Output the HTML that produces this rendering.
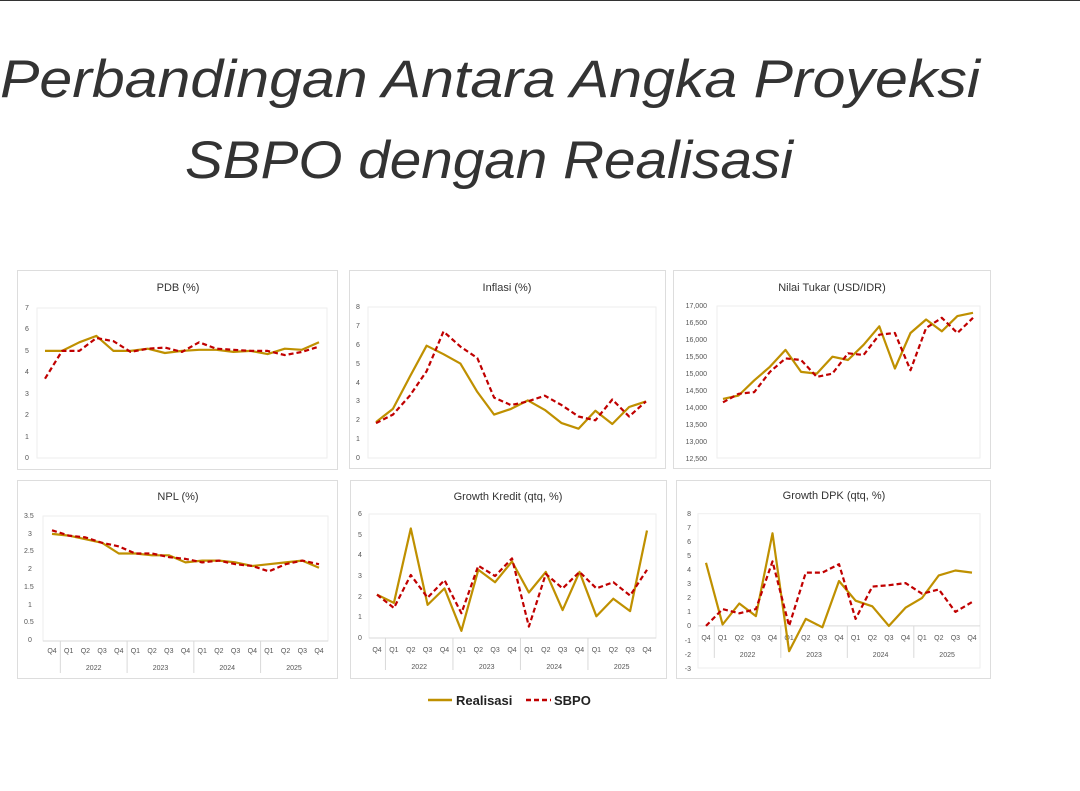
<!DOCTYPE html>
<html><head><meta charset="utf-8"><style>
html,body{margin:0;padding:0;background:#fff;}
svg{display:block;font-family:"Liberation Sans",sans-serif;}
.t{font-size:11px;fill:#333;text-anchor:middle;}
.y{font-size:7px;fill:#555;}
.c{font-size:7px;fill:#555;text-anchor:middle;}
.box{fill:#fff;stroke:#ddd;stroke-width:1;}
.g{fill:none;stroke:#ededed;stroke-width:1;}
</style></head><body>
<svg id="s" width="1080" height="791" viewBox="0 0 1080 791" xmlns="http://www.w3.org/2000/svg">
<line x1="0" y1="0.5" x2="1080" y2="0.5" stroke="#333" stroke-width="1"/>
<text x="0" y="97" font-size="53" font-style="italic" fill="#333" textLength="980" lengthAdjust="spacingAndGlyphs">Perbandingan Antara Angka Proyeksi</text>
<text x="185" y="178" font-size="53" font-style="italic" fill="#333" textLength="608" lengthAdjust="spacingAndGlyphs">SBPO dengan Realisasi</text>

<rect class="box" x="17.5" y="270.5" width="320" height="199"/>
<rect class="box" x="349.5" y="270.5" width="316" height="198"/>
<rect class="box" x="673.5" y="270.5" width="317" height="198"/>
<rect class="box" x="17.5" y="480.5" width="320" height="198"/>
<rect class="box" x="350.5" y="480.5" width="316" height="198"/>
<rect class="box" x="676.5" y="480.5" width="314" height="198"/>

<text class="t" x="178" y="291">PDB (%)</text>
<text class="t" x="507" y="291">Inflasi (%)</text>
<text class="t" x="832" y="291">Nilai Tukar (USD/IDR)</text>
<text class="t" x="178" y="500">NPL (%)</text>
<text class="t" x="508" y="500">Growth Kredit (qtq, %)</text>
<text class="t" x="834" y="499">Growth DPK (qtq, %)</text>

<g class="y" text-anchor="start">
<text x="25" y="310">7</text><text x="25" y="331">6</text><text x="25" y="353">5</text><text x="25" y="374">4</text><text x="25" y="396">3</text><text x="25" y="417">2</text><text x="25" y="439">1</text><text x="25" y="460">0</text>
<text x="356" y="309">8</text><text x="356" y="328">7</text><text x="356" y="347">6</text><text x="356" y="366">5</text><text x="356" y="385">4</text><text x="356" y="403">3</text><text x="356" y="422">2</text><text x="356" y="441">1</text><text x="356" y="460">0</text>
<text x="24" y="518">3.5</text><text x="28" y="536">3</text><text x="24" y="553">2.5</text><text x="28" y="571">2</text><text x="24" y="589">1.5</text><text x="28" y="607">1</text><text x="24" y="624">0.5</text><text x="28" y="642">0</text>
<text x="358" y="516">6</text><text x="358" y="537">5</text><text x="358" y="557">4</text><text x="358" y="578">3</text><text x="358" y="599">2</text><text x="358" y="619">1</text><text x="358" y="640">0</text>
</g>
<g class="y" text-anchor="end">
<text x="707" y="308">17,000</text><text x="707" y="325">16,500</text><text x="707" y="342">16,000</text><text x="707" y="359">15,500</text><text x="707" y="376">15,000</text><text x="707" y="393">14,500</text><text x="707" y="410">14,000</text><text x="707" y="427">13,500</text><text x="707" y="444">13,000</text><text x="707" y="461">12,500</text>
<text x="691" y="516">8</text><text x="691" y="530">7</text><text x="691" y="544">6</text><text x="691" y="558">5</text><text x="691" y="572">4</text><text x="691" y="586">3</text><text x="691" y="600">2</text><text x="691" y="614">1</text><text x="691" y="628">0</text><text x="691" y="643">-1</text><text x="691" y="657">-2</text><text x="691" y="671">-3</text>
</g>

<g class="c">
<text y="653"><tspan x="52">Q4</tspan><tspan x="68.7">Q1</tspan><tspan x="85.4">Q2</tspan><tspan x="102.1">Q3</tspan><tspan x="118.8">Q4</tspan><tspan x="135.4">Q1</tspan><tspan x="152.1">Q2</tspan><tspan x="168.8">Q3</tspan><tspan x="185.5">Q4</tspan><tspan x="202.2">Q1</tspan><tspan x="218.9">Q2</tspan><tspan x="235.6">Q3</tspan><tspan x="252.3">Q4</tspan><tspan x="268.9">Q1</tspan><tspan x="285.6">Q2</tspan><tspan x="302.3">Q3</tspan><tspan x="319">Q4</tspan></text>
<text y="670"><tspan x="93.7">2022</tspan><tspan x="160.5">2023</tspan><tspan x="227.2">2024</tspan><tspan x="294">2025</tspan></text>
<text y="652"><tspan x="377">Q4</tspan><tspan x="393.9">Q1</tspan><tspan x="410.8">Q2</tspan><tspan x="427.6">Q3</tspan><tspan x="444.5">Q4</tspan><tspan x="461.4">Q1</tspan><tspan x="478.3">Q2</tspan><tspan x="495.1">Q3</tspan><tspan x="512">Q4</tspan><tspan x="528.9">Q1</tspan><tspan x="545.8">Q2</tspan><tspan x="562.6">Q3</tspan><tspan x="579.5">Q4</tspan><tspan x="596.4">Q1</tspan><tspan x="613.3">Q2</tspan><tspan x="630.1">Q3</tspan><tspan x="647">Q4</tspan></text>
<text y="669"><tspan x="419.2">2022</tspan><tspan x="486.7">2023</tspan><tspan x="554.2">2024</tspan><tspan x="621.7">2025</tspan></text>
<text y="640"><tspan x="706">Q4</tspan><tspan x="722.6">Q1</tspan><tspan x="739.3">Q2</tspan><tspan x="755.9">Q3</tspan><tspan x="772.5">Q4</tspan><tspan x="789.1">Q1</tspan><tspan x="805.8">Q2</tspan><tspan x="822.4">Q3</tspan><tspan x="839">Q4</tspan><tspan x="855.6">Q1</tspan><tspan x="872.3">Q2</tspan><tspan x="888.9">Q3</tspan><tspan x="905.5">Q4</tspan><tspan x="922.1">Q1</tspan><tspan x="938.8">Q2</tspan><tspan x="955.4">Q3</tspan><tspan x="972">Q4</tspan></text>
<text y="657"><tspan x="747.6">2022</tspan><tspan x="814.1">2023</tspan><tspan x="880.6">2024</tspan><tspan x="947.1">2025</tspan></text>
</g>

<g font-size="13" font-weight="bold" fill="#222">
<line x1="428" y1="700" x2="452" y2="700" stroke="#BF9000" stroke-width="2.5"/>
<text x="456" y="705">Realisasi</text>
<line x1="526" y1="700" x2="551" y2="700" stroke="#C00000" stroke-width="2.5" stroke-dasharray="5,3"/>
<text x="554" y="705">SBPO</text>
</g>
<g id="lines"></g>
</svg>
<script>
var P=[
 {x0:45,x1:319,y0:458,ymax:308,vmin:0,vmax:7,L:[37,327],
  r:[5,5,5.4,5.7,5,5,5.1,4.9,5,5.05,5.05,4.95,5,4.85,5.1,5.05,5.4],
  s:[3.7,5,5,5.6,5.45,4.95,5.1,5.15,4.95,5.4,5.1,5.05,5,5,4.8,4.95,5.2]},
 {x0:376,x1:646,y0:458,ymax:307,vmin:0,vmax:8,L:[368,656],
  r:[1.9,2.6,4.3,5.95,5.5,5.0,3.5,2.3,2.6,3.05,2.55,1.85,1.55,2.5,1.8,2.7,3.0],
  s:[1.85,2.3,3.3,4.6,6.7,5.9,5.3,3.2,2.8,3.0,3.3,2.8,2.2,2.0,3.1,2.2,3.0]},
 {x0:723,x1:973,y0:458,ymax:306,vmin:12500,vmax:17000,L:[717,980],
  r:[14250,14350,14800,15200,15700,15050,15000,15500,15400,15850,16400,15150,16200,16600,16250,16700,16800],
  s:[14150,14400,14450,15050,15450,15400,14900,15000,15600,15550,16150,16200,15100,16350,16650,16200,16650]},
 {x0:52,x1:319,y0:641,ymax:516,vmin:0,vmax:3.5,L:[43,328],cat:true,
  r:[3.0,2.95,2.85,2.75,2.45,2.45,2.4,2.4,2.2,2.25,2.25,2.2,2.1,2.15,2.2,2.25,2.05],
  s:[3.1,2.95,2.9,2.75,2.65,2.45,2.45,2.35,2.3,2.2,2.25,2.15,2.1,1.95,2.15,2.25,2.15]},
 {x0:377,x1:647,y0:638,ymax:514,vmin:0,vmax:6,L:[369,656],cat:true,
  r:[2.1,1.7,5.3,1.6,2.4,0.35,3.3,2.7,3.7,2.2,3.2,1.35,3.2,1.05,1.9,1.3,5.2],
  s:[2.1,1.45,3.05,1.95,2.8,1.2,3.5,3.0,3.85,0.55,3.1,2.4,3.2,2.4,2.7,2.05,3.3]},
 {x0:706,x1:972,y0:668,ymax:513.7,vmin:-3,vmax:8,L:[698,980],zero:true,
  r:[4.5,0.1,1.6,0.7,6.6,-1.8,0.5,-0.1,3.2,1.8,1.4,0,1.3,2.0,3.6,3.95,3.8],
  s:[0,1.2,0.9,1.2,4.6,0,3.8,3.8,4.4,0.5,2.8,2.9,3.05,2.3,2.6,1.0,1.7]}
];
var h='';
P.forEach(function(p){
 function Y(v){return p.y0-(v-p.vmin)/(p.vmax-p.vmin)*(p.y0-p.ymax);}
 var dx=(p.x1-p.x0)/16;
 h+='<rect x="'+p.L[0]+'" y="'+p.ymax+'" width="'+(p.L[1]-p.L[0])+'" height="'+(p.y0-p.ymax)+'" fill="none" stroke="#eee"/>';
 var ax=p.zero?Y(0):p.y0;
 if(p.cat||p.zero){
  h+='<line x1="'+p.L[0]+'" y1="'+ax+'" x2="'+p.L[1]+'" y2="'+ax+'" stroke="#d9d9d9"/>';
  [0.5,4.5,8.5,12.5].forEach(function(k){var x=p.x0+k*dx;h+='<line x1="'+x+'" y1="'+ax+'" x2="'+x+'" y2="'+(ax+(k==0.5?32:32))+'" stroke="#d9d9d9"/>';});
 }
 function pl(a,st){return '<polyline fill="none" stroke-linejoin="round" points="'+a.map(function(v,i){return (p.x0+i*dx).toFixed(1)+','+Y(v).toFixed(1);}).join(' ')+'" '+st+'/>';}
 h+=pl(p.r,'stroke="#BF9000" stroke-width="2.2"');
 h+=pl(p.s,'stroke="#C00000" stroke-width="2.2" stroke-dasharray="5,3"');
});
document.getElementById('lines').innerHTML=h;
</script>
</body></html>
